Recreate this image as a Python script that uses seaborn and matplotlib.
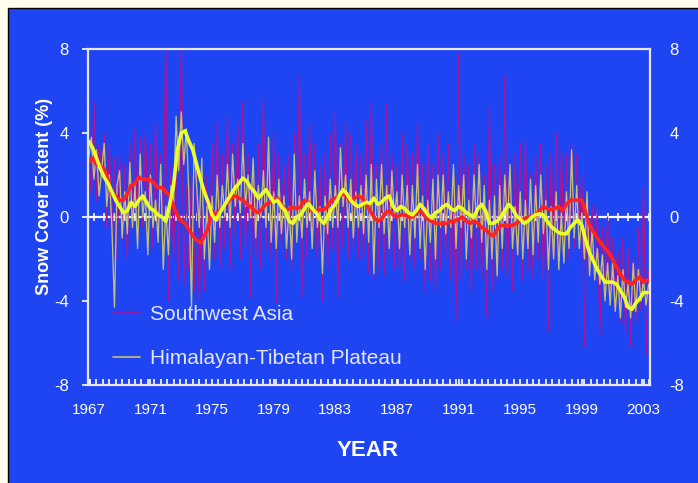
import numpy as np
import pandas as pd
import matplotlib
matplotlib.use("Agg")
import matplotlib.pyplot as plt
import seaborn as sns
from matplotlib.patches import Rectangle
from matplotlib.lines import Line2D
from matplotlib.ticker import MultipleLocator

# Snow cover extent anomalies (%), 1967-2003
# thin lines: bimonthly values, thick lines: smoothed (quarterly)

sw_asia_raw = [
    3.0, 1.0, 5.5, 0.8, 3.5, 2.0,      # 1967
    4.0, -0.5, 3.5, -1.5, 2.8, -2.0,   # 1968
    3.0, -1.0, 2.5, -2.0, 3.5, 0.0,    # 1969
    4.2, -1.0, 3.8, -0.5, 4.0, 0.5,    # 1970
    3.5, -1.5, 4.5, -1.0, 3.0, -0.5,   # 1971
    8.6, -4.0, 2.5, -2.0, 3.0, -3.0,   # 1972
    8.6, -3.3, 1.5, -2.5, 2.0, -3.5,   # 1973
    2.5, -4.0, 1.0, -3.5, 2.0, -2.0,   # 1974
    3.5, -2.0, 4.5, -2.5, 3.0, -1.5,   # 1975
    4.8, -2.5, 3.5, -1.0, 4.5, -2.0,   # 1976
    5.5, -1.5, 3.0, -3.8, 2.5, -2.0,   # 1977
    3.5, -2.5, 5.7, -1.5, 2.5, -2.0,   # 1978
    4.0, -4.1, 3.0, -1.5, 2.5, -2.0,   # 1979
    3.0, -2.5, 4.0, -1.0, 6.7, -3.8,   # 1980
    3.0, -2.0, 4.5, -1.5, 3.5, -2.0,   # 1981
    2.5, -4.0, 3.0, -2.5, 4.0, -1.5,   # 1982
    5.0, -3.8, 3.5, -1.5, 4.5, -2.0,   # 1983
    4.0, -1.5, 3.5, -2.0, 3.0, -2.0,   # 1984
    4.6, -2.7, 5.5, -3.0, 2.5, -2.5,   # 1985
    3.5, -2.8, 5.4, -2.0, 3.0, -2.5,   # 1986
    2.5, -2.5, 4.0, -3.0, 3.5, -2.0,   # 1987
    3.0, -2.5, 4.5, -2.0, 2.5, -3.5,   # 1988
    3.5, -3.0, 2.5, -3.5, 4.0, -2.5,   # 1989
    3.0, -2.0, 3.5, -3.0, 2.0, -4.9,   # 1990
    7.8, -3.0, 3.0, -2.5, 2.5, -3.5,   # 1991
    3.5, -2.5, 3.0, -3.0, 2.0, -4.8,   # 1992
    5.2, -3.5, 2.5, -3.0, 3.0, -2.5,   # 1993
    6.7, -3.0, 2.5, -3.5, 3.0, -2.0,   # 1994
    3.5, -3.0, 3.7, -2.5, 2.0, -3.0,   # 1995
    3.0, -2.0, 3.5, -3.0, 2.5, -5.4,   # 1996
    3.0, -2.0, 4.0, -2.5, 3.2, -1.5,   # 1997
    3.0, -2.0, 3.5, -1.5, 3.0, -1.0,   # 1998
    2.0, -6.2, 1.0, -2.5, 0.5, -3.0,   # 1999
    0.5, -5.6, -0.5, -3.5, 0.0, -4.0,  # 2000
    -1.0, -4.5, -1.5, -5.0, -1.0, -5.5,  # 2001
    -1.5, -6.2, -2.0, -5.0, -0.5, -4.5,  # 2002
    1.5, -6.6, -2.5,                   # 2003
]

himalaya_raw = [
    2.8, 3.8, 1.8, 3.2, 1.0, 2.2,      # 1967
    3.5, 0.5, 2.0, -0.5, -4.3, 1.5,    # 1968
    2.2, -1.0, 1.2, -0.8, 2.6, -0.5,   # 1969
    1.5, -1.5, 3.0, 0.0, 1.2, -1.8,    # 1970
    2.0, -0.5, 0.8, -1.2, 2.5, -2.5,   # 1971
    0.5, -1.8, 1.5, 0.5, 4.8, 2.2,     # 1972
    5.0, 2.5, 4.2, 1.0, -4.3, 3.5,     # 1973
    1.5, -0.5, 2.8, -2.0, 0.5, -2.5,   # 1974
    1.0, -1.2, 2.0, -0.5, 1.5, 0.0,    # 1975
    2.5, -0.5, 3.0, 0.5, 1.8, 0.2,     # 1976
    3.5, 0.5, 2.0, 0.0, 2.8, -1.0,     # 1977
    1.5, 0.0, 2.2, -0.5, 3.8, -1.2,    # 1978
    1.2, -1.5, 1.8, -0.8, 1.0, -1.5,   # 1979
    0.5, -2.0, 3.0, -1.2, 1.0, -1.0,   # 1980
    1.8, -0.5, 1.2, -1.5, 2.2, -0.5,   # 1981
    0.5, -2.7, 1.0, -0.8, 1.8, -0.5,   # 1982
    1.5, -0.5, 3.3, 0.5, 2.0, -0.5,    # 1983
    1.8, -1.0, 1.2, -0.5, 1.5, -0.8,   # 1984
    2.0, -1.2, 2.5, -2.7, 1.8, -0.5,   # 1985
    2.5, -0.8, 1.5, -1.5, 2.2, 0.0,    # 1986
    1.2, -1.5, 2.0, -0.5, 1.5, -1.8,   # 1987
    1.5, -1.0, 2.5, -1.5, 1.0, -2.5,   # 1988
    0.8, -1.2, 1.8, -2.0, 2.0, -0.5,   # 1989
    2.0, -0.8, 1.2, -0.5, 2.5, -1.5,   # 1990
    1.5, -0.5, 2.0, -2.0, 0.8, -1.0,   # 1991
    2.0, -0.5, 2.5, -1.2, 1.5, -2.5,   # 1992
    0.8, -2.0, 1.0, -2.8, 1.5, -1.5,   # 1993
    2.0, -0.5, 2.5, -1.5, 0.5, -1.8,   # 1994
    1.2, -2.0, 0.8, -1.5, 1.8, -1.8,   # 1995
    1.5, -1.2, 2.0, -0.8, 0.8, -2.5,   # 1996
    0.5, -2.0, 1.2, -2.5, 0.2, -2.2,   # 1997
    1.2, -1.5, 3.2, -1.0, 1.5, -1.5,   # 1998
    0.2, -2.0, 1.2, -2.8, -0.5, -3.0,  # 1999
    -1.5, -3.2, -1.8, -4.0, -2.2, -4.2,  # 2000
    -2.2, -4.5, -2.8, -4.8, -2.5, -4.3,  # 2001
    -3.2, -4.8, -2.2, -4.5, -2.5, -4.0,  # 2002
    -3.0, -4.2, -3.2,                  # 2003
]

sw_asia_smooth = [
    2.6, 2.8, 2.5, 2.4,  2.3, 1.8, 1.1, 1.0,  0.8, 0.8, 1.1, 1.5,   # 1967-69
    1.6, 1.9, 1.8, 1.8,  1.75, 1.6, 1.4, 1.4,  1.2, 1.0, 0.5, 0.1,  # 1970-72
    -0.2, -0.3, -0.6, -0.9,  -1.1, -1.25, -0.9, -0.5,  0.3, 0.1, 0.3, 0.5,  # 1973-75
    0.7, 0.9, 1.0, 0.9,  0.8, 0.6, 0.5, 0.3,  0.2, 0.4, 0.6, 0.7,   # 1976-78
    0.8, 0.9, 0.6, 0.3,  0.4, 0.45, 0.4, 0.5,  0.8, 0.7, 0.3, 0.3,  # 1979-81
    0.35, 0.35, 0.5, 0.8,  0.9, 1.0, 1.1, 1.0,  0.7, 0.9, 1.0, 0.9,  # 1982-84
    0.6, 0.3, 0.0, -0.2,  -0.1, 0.2, 0.3, 0.1,  0.0, 0.1, 0.1, 0.0,  # 1985-87
    0.0, 0.2, 0.3, 0.1,  -0.1, -0.2, -0.3, -0.3,  -0.3, -0.3, -0.2, -0.2,  # 1988-90
    -0.1, 0.0, -0.2, -0.3,  -0.2, -0.3, -0.5, -0.6,  -0.8, -0.9, -0.6, -0.4,  # 1991-93
    -0.4, -0.4, -0.4, -0.3,  -0.15, -0.1, 0.0, 0.05,  0.05, 0.3, 0.5, 0.4,  # 1994-96
    0.35, 0.4, 0.5, 0.3,  0.6, 0.8, 0.8, 0.8,  0.8, 0.2, -0.4, -0.7,  # 1997-99
    -1.0, -1.25, -1.5, -1.7,  -2.0, -2.4, -2.7, -3.0,  -3.1, -3.2, -3.0, -2.85,  # 2000-02
    -3.1, -3.0,                                                    # 2003
]

himalaya_smooth = [
    3.6, 3.3, 2.8, 2.3,  1.9, 1.6, 1.2, 0.8,  0.5, 0.2, 0.3, 0.7,   # 1967-69
    0.5, 0.8, 1.0, 0.7,  0.4, 0.3, 0.1, 0.0,  -0.2, 0.6, 1.5, 3.2,  # 1970-72
    4.0, 4.1, 3.6, 3.2,  2.5, 1.8, 1.2, 0.7,  0.1, -0.15, 0.2, 0.5,  # 1973-75
    0.8, 1.1, 1.4, 1.6,  1.85, 1.7, 1.4, 1.2,  0.9, 1.1, 1.3, 1.0,  # 1976-78
    0.7, 0.8, 0.5, 0.3,  -0.2, -0.3, 0.0, 0.1,  0.4, 0.65, 0.4, 0.2,  # 1979-81
    -0.1, -0.3, 0.0, 0.4,  0.6, 1.0, 1.3, 1.1,  0.8, 0.6, 0.5, 0.6,  # 1982-84
    0.7, 0.65, 0.9, 0.6,  0.7, 0.9, 1.0, 0.5,  0.3, 0.5, 0.4, 0.2,  # 1985-87
    0.1, 0.3, 0.6, 0.4,  0.1, -0.05, 0.2, 0.3,  0.5, 0.6, 0.4, 0.3,  # 1988-90
    0.5, 0.4, 0.2, 0.1,  0.0, 0.4, 0.6, 0.3,  -0.3, -0.3, -0.2, 0.0,  # 1991-93
    0.3, 0.6, 0.4, 0.05,  -0.1, -0.3, -0.2, 0.0,  0.1, 0.15, 0.1, -0.2,  # 1994-96
    -0.45, -0.6, -0.75, -0.8,  -0.8, -0.5, -0.3, -0.15,  -0.4, -1.1, -1.7, -2.1,  # 1997-99
    -2.5, -2.8, -3.1, -3.1,  -3.1, -3.2, -3.5, -3.8,  -4.3, -4.4, -4.1, -3.9,  # 2000-02
    -3.6, -3.6,                                                    # 2003
]

year_ticks = [1967, 1971, 1975, 1979, 1983, 1987, 1991, 1995, 1999, 2003]
y_ticks = [-8, -4, 0, 4, 8]
regions = ["Southwest Asia", "Himalayan-Tibetan Plateau"]

blue = "#1f44f2"
thin_colors = {"Southwest Asia": "#a3179c", "Himalayan-Tibetan Plateau": "#c6bf74"}
thick_colors = {"Southwest Asia": "#ff2222", "Himalayan-Tibetan Plateau": "#e8ff2c"}

# time axes (decimal years)
raw_years = 1967 + np.arange(len(sw_asia_raw)) / 6
smooth_years = 1967 + np.arange(len(sw_asia_smooth)) / 4

raw_df = pd.concat([
    pd.DataFrame({"Year": raw_years, "Extent": sw_asia_raw, "Region": regions[0]}),
    pd.DataFrame({"Year": raw_years, "Extent": himalaya_raw, "Region": regions[1]}),
])
smooth_df = pd.concat([
    pd.DataFrame({"Year": smooth_years, "Extent": sw_asia_smooth, "Region": regions[0]}),
    pd.DataFrame({"Year": smooth_years, "Extent": himalaya_smooth, "Region": regions[1]}),
])

sns.set_style("white")
plt.rcParams["font.family"] = ["Liberation Sans", "DejaVu Sans"]
plt.rcParams["axes.unicode_minus"] = False

fig = plt.figure(figsize=(6.98, 4.83), dpi=100)
fig.patch.set_facecolor("#fffff0")
fig.add_artist(Rectangle((8 / 698, -0.01), 1.0, 1 - 8 / 483 + 0.01, transform=fig.transFigure,
                         facecolor=blue, edgecolor="black", lw=1.0, zorder=0))

ax = fig.add_axes([0.1261, 0.2029, 0.8051, 0.6957])
ax.set_facecolor(blue)

# thin lines
sns.lineplot(data=raw_df, x="Year", y="Extent", hue="Region", palette=thin_colors,
             hue_order=regions, estimator=None, lw=0.95, legend=False, ax=ax)
# smoothed lines
sns.lineplot(data=smooth_df, x="Year", y="Extent", hue="Region", palette=thick_colors,
             hue_order=regions, estimator=None, lw=2.6, legend=False, ax=ax)

ax.axhline(0, color="white", lw=1.6, zorder=1.5)

ax.set_xlim(1966.95, 2003.42)
ax.set_ylim(-8, 8)
ax.set_xticks(year_ticks)
ax.set_xticklabels([str(y) for y in year_ticks])
ax.xaxis.set_minor_locator(MultipleLocator(5 / 12))
ax.set_yticks(y_ticks)
ax.tick_params(axis="x", which="both", direction="in", length=4, width=1.2,
               color="white", labelcolor="white", labelsize=11, pad=13, bottom=True)
ax.tick_params(axis="y", direction="out", length=4, width=1.2, color="white",
               labelcolor="white", labelsize=12, left=True, right=False,
               labelleft=True, labelright=True, pad=10)

# tick marks along the zero line
zero_ax = ax.secondary_xaxis(0.5)
zero_ax.xaxis.set_major_locator(MultipleLocator(2 / 3))
zero_ax.tick_params(axis="x", direction="inout", length=6, width=1.2, color="white",
                    labelbottom=False, labeltop=False)
for s in zero_ax.spines.values():
    s.set_visible(False)

for s in ax.spines.values():
    s.set_visible(True)
    s.set_color("#e6e6ff")
    s.set_linewidth(1.6)

ax.set_xlabel("")
ax.set_ylabel("")
fig.text(45 / 698, 1 - 196 / 483, "Snow Cover Extent (%)", rotation=90, color="white",
         fontsize=13, fontweight="bold", ha="center", va="center")
fig.text(368 / 698, 1 - 451 / 483, "YEAR", color="white", fontsize=16,
         fontweight="bold", ha="center", va="center")

handles = [Line2D([], [], color=thin_colors[r], lw=1.2) for r in regions]
leg = ax.legend(handles, regions, loc="upper left", bbox_to_anchor=(0.044, 0.237),
                frameon=False, fontsize=15, handlelength=1.3, handletextpad=0.5,
                labelspacing=1.2, borderpad=0, borderaxespad=0)
for t in leg.get_texts():
    t.set_color("#e2e4ff")

fig.savefig("out.png", dpi=100, facecolor=fig.get_facecolor())
